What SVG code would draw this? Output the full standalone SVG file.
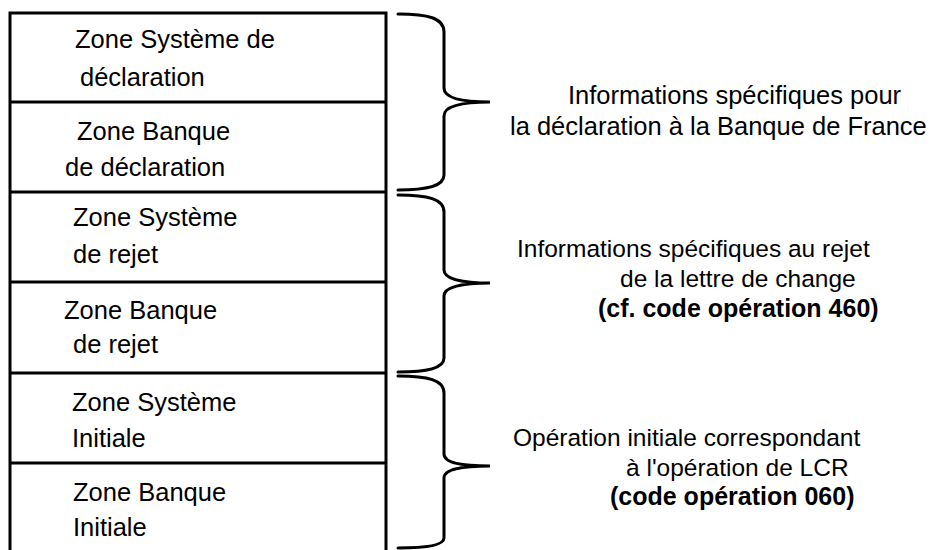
<svg xmlns="http://www.w3.org/2000/svg" width="936" height="550" viewBox="0 0 936 550">
<style>
text{font-family:"Liberation Sans",Arial,sans-serif;font-size:25.5px;fill:#000}
.r{font-size:24.5px}
.b{font-weight:bold;font-size:25px}
.line{stroke:#000;stroke-width:3;fill:none}
.br{stroke:#000;stroke-width:3;fill:none;stroke-linecap:round}
</style>
<rect width="936" height="550" fill="#fff"/>
<g id="stack">
<path class="line" d="M10,560 V13 H386 V560"/>
</g>
<g id="zone-sys-decl">
<line class="line" x1="10" y1="102" x2="386" y2="102"/>
<text x="75" y="48">Zone Système de</text>
<text x="80" y="86">déclaration</text>
</g>
<g id="zone-bq-decl">
<line class="line" x1="10" y1="192" x2="386" y2="192"/>
<text x="77" y="140">Zone Banque</text>
<text x="65" y="176">de déclaration</text>
</g>
<g id="zone-sys-rejet">
<line class="line" x1="10" y1="282" x2="386" y2="282"/>
<text x="73" y="226">Zone Système</text>
<text x="73" y="263">de rejet</text>
</g>
<g id="zone-bq-rejet">
<line class="line" x1="10" y1="373" x2="386" y2="373"/>
<text x="64" y="319">Zone Banque</text>
<text x="73" y="353">de rejet</text>
</g>
<g id="zone-sys-init">
<line class="line" x1="10" y1="463" x2="386" y2="463"/>
<text x="72" y="411">Zone Système</text>
<text x="72" y="447">Initiale</text>
</g>
<g id="zone-bq-init">
<text x="73" y="501">Zone Banque</text>
<text x="73" y="536">Initiale</text>
</g>
<g id="connectors">
<path class="br" d="M398,14 C428,14 444,18 444,32 V88 C444,98 462,102 490,102 C462,102 444,106 444,116 V175 C444,186 428,190 398,190"/>
<path class="br" d="M398,195 C428,195 444,199 444,212 V270 C444,279 462,283 490,283 C462,283 444,287 444,296 V358 C444,368 428,372 398,372"/>
<path class="br" d="M398,376 C428,376 444,380 444,393 V454 C444,463 462,466 490,466 C462,466 444,469 444,478 V538 C444,545 428,548 398,548"/>
</g>
<g id="label-decl">
<text x="568" y="104">Informations spécifiques pour</text>
<text x="510" y="135">la déclaration à la Banque de France</text>
</g>
<g id="label-rejet">
<text class="r" x="517" y="257">Informations spécifiques au rejet</text>
<text class="r" x="620" y="287">de la lettre de change</text>
<text class="b" x="598" y="317">(cf. code opération 460)</text>
</g>
<g id="label-init">
<text class="r" x="513" y="446">Opération initiale correspondant</text>
<text class="r" x="626" y="476">à l'opération de LCR</text>
<text class="b" x="610" y="505">(code opération 060)</text>
</g>
</svg>
